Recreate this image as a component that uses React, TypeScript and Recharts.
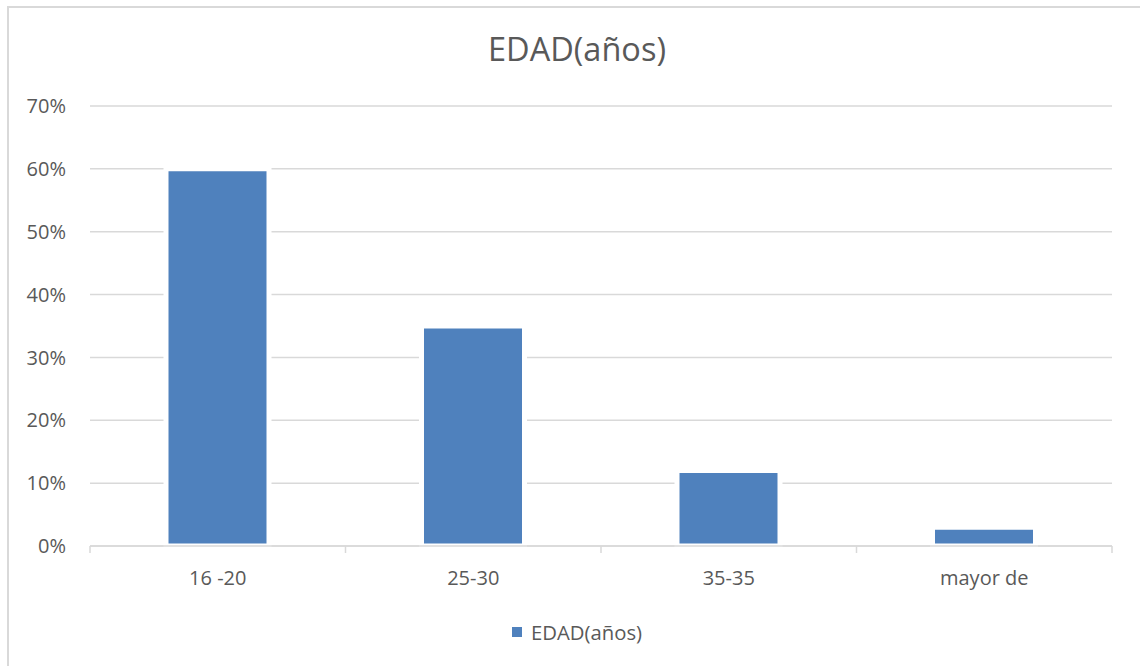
import React from "react";
import { BarChart, Bar, XAxis, YAxis, CartesianGrid, Legend } from "recharts";

const categories = ["16 -20", "25-30", "35-35", "mayor de"];
const edadValues = [0.6, 0.35, 0.12, 0.03];
const yTicks = [0, 0.1, 0.2, 0.3, 0.4, 0.5, 0.6, 0.7];
const seriesName = "EDAD(años)";
const titleText = "EDAD(años)";

const data = categories.map((c, i) => ({ cat: c, value: edadValues[i] }));

const FONT = "'Open Sans', sans-serif";
const TEXT = "#595959";
const GRID = "#d9d9d9";
const BLUE = "#4f81bd";
const TICK_MARGIN = 25;

const XTick = (props: any) => {
  const { x, y, payload, index, width, visibleTicksCount } = props;
  const n = visibleTicksCount || categories.length;
  const band = width / n;
  const axisY = y - TICK_MARGIN;
  const left = x - band / 2;
  const right = x + band / 2;
  return (
    <g>
      <line x1={left} x2={left} y1={axisY} y2={axisY + 7} stroke={GRID} strokeWidth={1.5} />
      {index === n - 1 && (
        <line x1={right} x2={right} y1={axisY} y2={axisY + 7} stroke={GRID} strokeWidth={1.5} />
      )}
      <text x={x} y={y} dy="0.71em" textAnchor="middle" fill={TEXT} fontSize={20} fontFamily={FONT}>
        {payload.value}
      </text>
    </g>
  );
};

const LegendContent = () => (
  <div style={{ display: "flex", justifyContent: "center", alignItems: "center", fontFamily: FONT, fontSize: 20.3, color: TEXT, paddingLeft: 14 }}>
    <span style={{ width: 10, height: 10, background: BLUE, display: "inline-block", marginRight: 9 }} />
    <span>{seriesName}</span>
  </div>
);

export default function App() {
  return (
    <div style={{ position: "absolute", left: 0, top: 0, width: 1140, height: 666, overflow: "hidden", background: "#fff" }}>
      <div style={{ position: "absolute", left: 7, top: 6, width: 1200, height: 800, border: `2px solid ${GRID}`, boxSizing: "border-box" }} />
      <div style={{ position: "absolute", left: 7, top: 28, width: 1140, textAlign: "center", fontFamily: FONT, fontSize: 32.5, color: TEXT, lineHeight: "42px" }}>
        {titleText}
      </div>
      <div style={{ position: "absolute", left: 0, top: 0 }}>
        <BarChart width={1140} height={666} data={data} margin={{ top: 106, right: 28, bottom: 90, left: 0 }} barCategoryGap={0}>
          <CartesianGrid vertical={false} stroke={GRID} strokeWidth={1.5} />
          <XAxis
            dataKey="cat"
            height={30}
            axisLine={{ stroke: GRID, strokeWidth: 1.5 }}
            tickLine={false}
            tickSize={0}
            tickMargin={TICK_MARGIN}
            tick={<XTick />}
            interval={0}
          />
          <YAxis
            width={90}
            domain={[0, 0.7]}
            ticks={yTicks}
            axisLine={false}
            tickLine={false}
            tickSize={0}
            tickMargin={24}
            tickFormatter={(v: number) => `${Math.round(v * 100)}%`}
            tick={{ fill: TEXT, fontSize: 20, fontFamily: FONT }}
          />
          <Legend
            verticalAlign="middle"
            align="center"
            layout="horizontal"
            wrapperStyle={{ top: 618, left: 0, width: 1140 }}
            content={<LegendContent />}
          />
          <Bar dataKey="value" name={seriesName} fill={BLUE} stroke="#ffffff" strokeWidth={5} barSize={103} isAnimationActive={false} />
        </BarChart>
      </div>
    </div>
  );
}
